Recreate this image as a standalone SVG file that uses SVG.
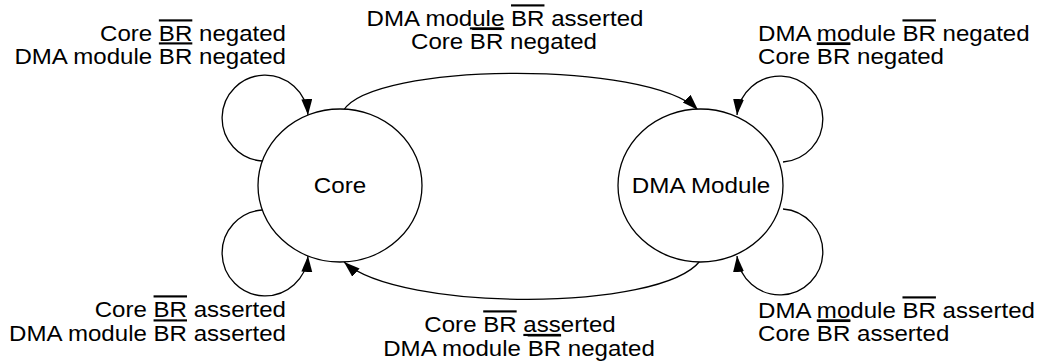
<svg xmlns="http://www.w3.org/2000/svg" width="1040" height="362" viewBox="0 0 1040 362">
  <defs>
    <marker id="arrow" markerUnits="userSpaceOnUse" markerWidth="17" markerHeight="12" refX="16" refY="5.5" orient="auto">
      <path d="M0,0 L16,5.5 L0,11 Z" fill="#000"/>
    </marker>
    <style>
      .state { fill: #fff; stroke: #000; stroke-width: 1.3; }
      .edge { fill: none; stroke: #000; stroke-width: 1.3; marker-end: url(#arrow); }
      text { font-family: "Liberation Sans", Arial, Helvetica, sans-serif; font-size: 21.5px; fill: #000; }
      .ol { text-decoration: overline; }
      .ul { text-decoration: underline; }
    </style>
  </defs>

  <g id="connectors">
    <path class="edge" d="M262,161 A43,43 0 1 1 308,115"/>
    <path class="edge" d="M262,210 A43,43 0 1 0 308,256"/>
    <path class="edge" d="M783,162 A43,43 0 1 0 737,115"/>
    <path class="edge" d="M783,209 A43,43 0 1 1 737,256"/>
    <path class="edge" d="M343,111 C372,62 648,60 698,110"/>
    <path class="edge" d="M700,261 C660,312 400,312 344,262"/>
  </g>

  <g id="node-core">
    <ellipse class="state" cx="340" cy="185.5" rx="82" ry="76.5"/>
    <text transform="translate(340,193) scale(1.1,1)" text-anchor="middle" style="font-size:22px">Core</text>
  </g>

  <g id="node-dma">
    <ellipse class="state" cx="700.5" cy="185.5" rx="82.5" ry="76.5"/>
    <text transform="translate(701,193) scale(1.1,1)" text-anchor="middle" style="font-size:22px">DMA Module</text>
  </g>

  <g id="labels">
    <text transform="translate(286,41) scale(1.12,1)" text-anchor="end">Core <tspan class="ol">BR</tspan> negated</text>
    <text transform="translate(286,64) scale(1.12,1)" text-anchor="end">DMA module <tspan class="ol">BR</tspan> negated</text>

    <text transform="translate(505,26) scale(1.12,1)" text-anchor="middle">DMA mod<tspan class="ul">ule</tspan> <tspan class="ol">BR</tspan> asserted</text>
    <text transform="translate(504,49) scale(1.12,1)" text-anchor="middle">Core <tspan class="ol">BR</tspan> negated</text>

    <text transform="translate(758,41) scale(1.12,1)">DMA <tspan class="ul">mo</tspan>dule <tspan class="ol">BR</tspan> negated</text>
    <text transform="translate(758,64) scale(1.12,1)">Core <tspan class="ol">BR</tspan> negated</text>

    <text transform="translate(286,317) scale(1.12,1)" text-anchor="end">Core <tspan class="ol">BR</tspan> asserted</text>
    <text transform="translate(286,341) scale(1.12,1)" text-anchor="end">DMA module <tspan class="ol">BR</tspan> asserted</text>

    <text transform="translate(520,332) scale(1.12,1)" text-anchor="middle">Core <tspan class="ol">BR</tspan> <tspan class="ul">ass</tspan>erted</text>
    <text transform="translate(519,356) scale(1.12,1)" text-anchor="middle">DMA module <tspan class="ol">BR</tspan> negated</text>

    <text transform="translate(758,318) scale(1.12,1)">DMA <tspan class="ul">mo</tspan>dule <tspan class="ol">BR</tspan> asserted</text>
    <text transform="translate(758,341) scale(1.12,1)">Core <tspan class="ol">BR</tspan> asserted</text>
  </g>
</svg>
